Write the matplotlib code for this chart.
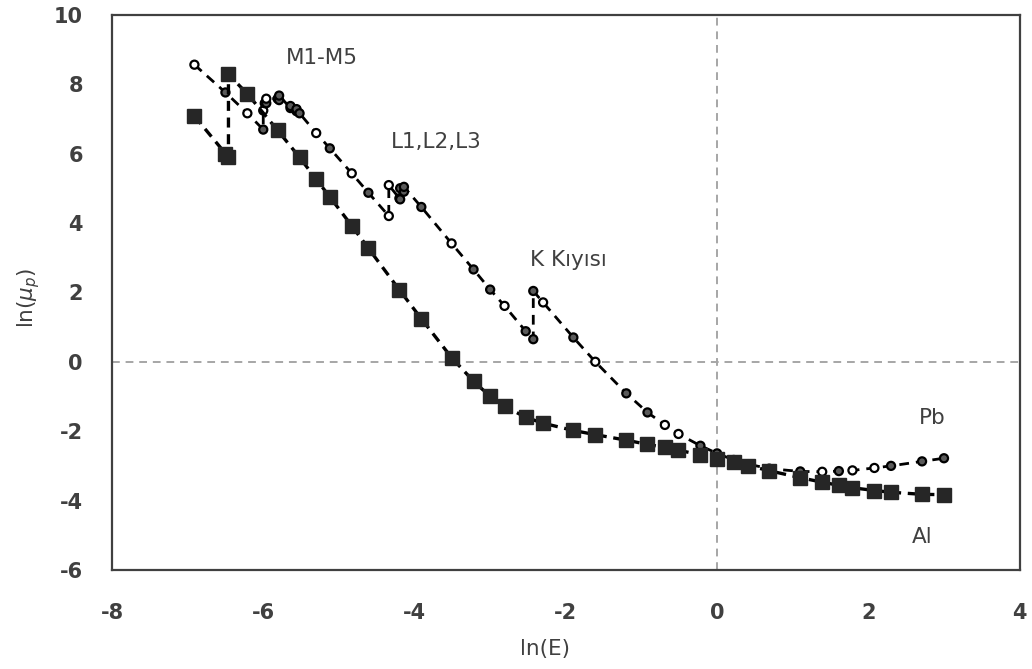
import matplotlib
matplotlib.use("Agg")
import matplotlib.pyplot as plt

# ln(E) / ln(mu_p)
al_lnE = [-6.91, -6.50, -6.46, -6.46, -6.21, -5.81, -5.52, -5.30, -5.12, -4.83, -4.61, -4.20, -3.91,
          -3.51, -3.22, -3.00, -2.81, -2.53, -2.30, -1.90, -1.61, -1.20, -0.92, -0.69, -0.51, -0.22,
          0.00, 0.22, 0.41, 0.69, 1.10, 1.39, 1.61, 1.79, 2.08, 2.30, 2.71, 3.00]
al_lnmu = [7.08, 6.00, 5.89, 8.28, 7.72, 6.67, 5.89, 5.26, 4.75, 3.92, 3.27, 2.07, 1.24,
           0.12, -0.56, -1.00, -1.28, -1.60, -1.77, -1.98, -2.10, -2.26, -2.38, -2.47, -2.55, -2.68,
           -2.79, -2.90, -2.99, -3.14, -3.34, -3.47, -3.56, -3.63, -3.71, -3.76, -3.82, -3.83]

pb_lnE = [-6.91, -6.50, -6.21, -6.00, -6.00, -5.98, -5.96, -5.96, -5.81, -5.79, -5.79, -5.64, -5.64,
          -5.56, -5.56, -5.52, -5.30, -5.12, -4.83, -4.61, -4.34, -4.34, -4.20, -4.19, -4.19, -4.14,
          -4.14, -3.91, -3.51, -3.22, -3.00, -2.81, -2.53, -2.43, -2.43, -2.30, -1.90, -1.61, -1.20,
          -0.92, -0.69, -0.51, -0.22, 0.00, 0.22, 0.41, 0.69, 1.10, 1.39, 1.61, 1.79, 2.08, 2.30,
          2.71, 3.00]
pb_lnmu = [8.56, 7.76, 7.16, 6.69, 7.24, 7.45, 7.45, 7.58, 7.58, 7.54, 7.67, 7.31, 7.37,
           7.22, 7.28, 7.16, 6.59, 6.15, 5.43, 4.87, 4.20, 5.09, 4.71, 4.68, 5.00, 4.90,
           5.04, 4.46, 3.41, 2.66, 2.08, 1.61, 0.88, 0.65, 2.04, 1.71, 0.70, 0.00, -0.91,
           -1.46, -1.82, -2.08, -2.42, -2.64, -2.83, -2.95, -3.08, -3.16, -3.17, -3.15, -3.13, -3.06, -3.00,
           -2.87, -2.78]
pb_filled = [0, 1, 0, 1, 0, 1, 1, 0, 1, 1, 1, 1, 1,
             1, 1, 1, 0, 1, 0, 1, 0, 0, 1, 1, 1, 1,
             1, 1, 0, 1, 1, 0, 1, 1, 1, 0, 1, 0, 1,
             1, 0, 0, 1, 1, 1, 1, 1, 1, 0, 1, 0, 0, 1,
             1, 1]

labels = ["M1-M5", "L1,L2,L3", "K Kıyısı", "Pb", "Al"]
label_xy = [(-5.22, 8.76), (-3.71, 6.34), (-1.96, 2.94), (2.84, -1.61), (2.71, -5.04)]

TXT = "#404040"
plt.rcParams["font.family"] = ["DejaVu Sans"]
plt.rcParams["axes.unicode_minus"] = False

fig = plt.figure(figsize=(10.32, 6.69), dpi=100)
ax = fig.add_axes([0.1085, 0.148, 0.8795, 0.830])

ax.axhline(0, color="#a6a6a6", lw=1.4, ls=(0, (4, 3)), zorder=1)
ax.axvline(0, color="#a6a6a6", lw=1.4, ls=(0, (4, 3)), zorder=1)

# Pb: dashed line, small circles (open / grey)
ax.plot(pb_lnE, pb_lnmu, color="black", lw=2.0, ls=(0, (3.5, 2.5)), zorder=2)
face = ["#5a5a5a" if f else "white" for f in pb_filled]
ax.scatter(pb_lnE, pb_lnmu, s=34, marker="o", facecolors=face, edgecolors="black",
           linewidths=1.6, zorder=3)

# Al: dashed line, filled squares
ax.plot(al_lnE, al_lnmu, color="black", lw=2.4, ls=(0, (3, 2)), marker="s", ms=10,
        mfc="#262626", mec="#262626", zorder=4)

for t, (x, y) in zip(labels, label_xy):
    ax.text(x, y, t, ha="center", va="center", fontsize=15.5, color=TXT)

ax.set_xlim(-8, 4)
ax.set_ylim(-6, 10)
ax.set_xticks(range(-8, 5, 2))
ax.set_yticks(range(-6, 11, 2))
ax.tick_params(length=0, labelsize=15, labelcolor=TXT)
ax.tick_params(axis="x", pad=24)
ax.tick_params(axis="y", pad=21)
for lab in ax.get_xticklabels() + ax.get_yticklabels():
    lab.set_fontweight("bold")
for s in ax.spines.values():
    s.set_color("#404040")
    s.set_linewidth(1.6)

ax.set_xlabel("ln(E)", fontsize=15.5, color=TXT)
ax.xaxis.set_label_coords(0.477, -0.125)
ax.set_ylabel(r"ln($\mu_p$)", fontsize=15.5, color=TXT)
ax.yaxis.set_label_coords(-0.077, 0.49)

fig.savefig("out.png", dpi=100, facecolor="white")
